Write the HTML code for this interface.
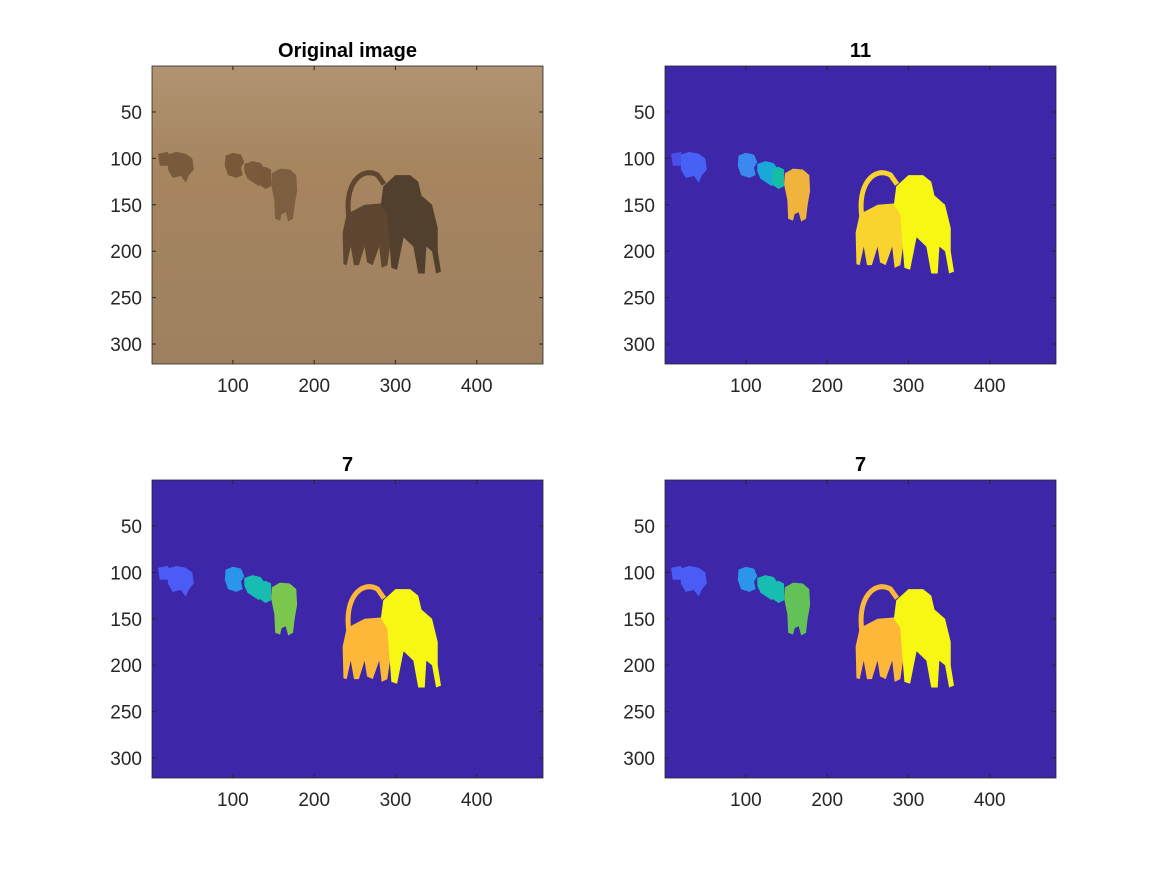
<!DOCTYPE html>
<html><head><meta charset="utf-8"><style>
body{margin:0;background:#fff;width:1167px;height:875px;overflow:hidden;font-family:"Liberation Sans",sans-serif}
#root{position:relative;width:1167px;height:875px}
svg{position:absolute;left:0;top:0}
</style></head><body>
<div id="root">
<svg id="fig" width="1167" height="875">
<defs><linearGradient id="haze" x1="0" y1="0" x2="0" y2="1">
<stop offset="0" stop-color="#b09372"/><stop offset="0.35" stop-color="#a6855f"/><stop offset="1" stop-color="#9e8060"/>
</linearGradient></defs>
</svg>
</div>
<script>
const xTicks=[100,200,300,400];
const yTicks=[50,100,150,200,250,300];
const titles=["Original image","11","7","7"];
const imgW=481, imgH=321;
const panels=[{x:152,y:66},{x:665,y:66},{x:152,y:480},{x:665,y:480}];
const PW=391, PH=298;
const blobA=[[8,95],[20,93],[24,100],[22,108],[10,108]];
const blobB=[[20,96],[30,93],[42,95],[50,100],[52,112],[46,118],[42,126],[36,119],[26,121],[20,112]];
const blobC=[[91,97],[100,94],[110,96],[114,104],[110,110],[112,118],[104,121],[94,118],[90,108]];
const blobD=[[114,106],[124,103],[134,105],[140,112],[137,122],[132,130],[125,126],[118,122],[114,114]];
const blobE=[[132,112],[140,109],[147,112],[147,130],[140,133],[132,128]];
const blobF=[[148,116],[158,111],[170,112],[178,118],[179,135],[176,150],[174,165],[168,168],[165,158],[160,160],[158,167],[152,165],[151,145],[147,128]];
const lionL=[[240,160],[262,150],[290,148],[300,160],[295,185],[290,215],[283,218],[280,195],[272,215],[265,212],[262,195],[255,215],[249,215],[245,195],[240,215],[236,214],[235,180]];
const lionR=[[285,130],[300,118],[318,118],[328,125],[332,140],[345,150],[352,175],[352,200],[356,222],[350,224],[345,200],[338,195],[336,224],[328,224],[322,195],[310,185],[302,220],[295,218],[292,185],[290,160],[282,150]];
const shapes=[blobA,blobB,blobC,blobD,blobE,blobF,lionL,lionR];
const palettes=[
 ["#7a5a3c","#7a5a3c","#785838","#7a5a3a","#785838","#7e5e40","#5e4630","#51402e"],
 ["#4a4de8","#4760f5","#3a88f0","#1aa8d8","#16bca9","#f0b43c","#f9d42e","#f8f714"],
 ["#4a5cf5","#4a5cf5","#2b95ea","#17bdb0","#17bdb0","#7cc84f","#fdb83a","#f8f714"],
 ["#4a5cf5","#4a5cf5","#2b95ea","#17bdb0","#17bdb0","#63c257","#fdb83a","#f8f714"]
];
const bgs=["url(#haze)","#3d27a8","#3d27a8","#3d27a8"];
const NS="http://www.w3.org/2000/svg";
const fig=document.getElementById('fig');
function mk(t,a,p){const e=document.createElementNS(NS,t);for(const k in a)e.setAttribute(k,a[k]);(p||fig).appendChild(e);return e;}
panels.forEach((P,i)=>{
 const sx=v=>P.x+(v-0.5)*PW/imgW, sy=v=>P.y+(v-0.5)*PH/imgH;
 const g=mk('g',{});
 
 
 const bg=mk('rect',{x:P.x,y:P.y,width:PW,height:PH,fill:bgs[i]},g);
 
 
 shapes.forEach((s,j)=>{
  const pg=mk('polygon',{points:s.map(p=>sx(p[0])+','+sy(p[1])).join(' '),fill:palettes[i][j]},g);
  
  
 });
 const tail=mk('path',{d:`M${sx(243)},${sy(165)} C${sx(236)},${sy(128)} ${sx(258)},${sy(108)} ${sx(278)},${sy(118)} L${sx(286)},${sy(128)}`,fill:'none',stroke:palettes[i][6],'stroke-width':5},g);
 
 
 const fr=mk('rect',{x:P.x,y:P.y,width:PW,height:PH,fill:'none',stroke:'#262626','stroke-width':0.8},g);
 
 
 xTicks.forEach(v=>{
  const X=sx(v);
  mk('line',{x1:X,x2:X,y1:P.y+PH,y2:P.y+PH-4,stroke:'#262626'},g);
  mk('line',{x1:X,x2:X,y1:P.y,y2:P.y+4,stroke:'#262626'},g);
  const t=mk('text',{x:X,y:P.y+PH+28,'text-anchor':'middle','font-size':19,fill:'#262626'},g);
  t.textContent=v;
  
  
 });
 yTicks.forEach(v=>{
  const Y=sy(v);
  mk('line',{x1:P.x,x2:P.x+4,y1:Y,y2:Y,stroke:'#262626'},g);
  mk('line',{x1:P.x+PW,x2:P.x+PW-4,y1:Y,y2:Y,stroke:'#262626'},g);
  const t=mk('text',{x:P.x-10,y:Y+7,'text-anchor':'end','font-size':19,fill:'#262626'},g);
  t.textContent=v;
  
  
 });
 const tt=mk('text',{x:P.x+PW/2,y:P.y-9,'text-anchor':'middle','font-size':20,'font-weight':'bold',fill:'#000'},g);
 tt.textContent=titles[i];
 
 
});
</script>
</body></html>
